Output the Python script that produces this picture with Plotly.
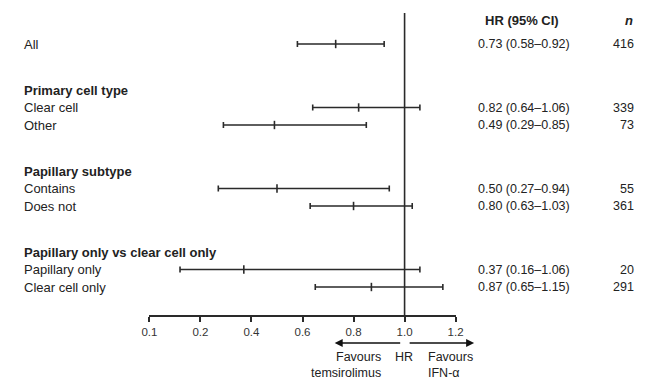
import numpy as np
import plotly.graph_objects as go

# ---- data ----
groups = [
    (None, ["All"]),
    ("Primary cell type", ["Clear cell", "Other"]),
    ("Papillary subtype", ["Contains", "Does not"]),
    ("Papillary only vs clear cell only", ["Papillary only", "Clear cell only"]),
]
hr = [0.73, 0.82, 0.49, 0.50, 0.80, 0.37, 0.87]
ci_lo = [0.58, 0.64, 0.29, 0.27, 0.63, 0.16, 0.65]
ci_hi = [0.92, 1.06, 0.85, 0.94, 1.03, 1.06, 1.15]
n_pat = [416, 339, 73, 55, 361, 20, 291]
tick_vals = [0.1, 0.2, 0.4, 0.6, 0.8, 1.0, 1.2]
tick_text = ["0.1", "0.2", "0.4", "0.6", "0.8", "1.0", "1.2"]

# ---- layout helpers ----
W, H = 645, 380
AX_Y = 315  # pixel row of x axis
FONT = "Liberation Sans, Arial, Helvetica, sans-serif"
TXT = "#222222"
LINE = "#2a2a2a"

# piecewise scale matching the drawn (broken) axis
tick_pos = list(range(len(tick_vals)))
def scale(v):
    return np.interp(v, tick_vals, tick_pos)

# row pixel positions
row_y, row_lab, head_y, head_lab = [], [], [], []
y = 44.0
step = 17.5
first = True
for head, items in groups:
    if head is not None:
        y += 41.0 if first else 46.0
        head_y.append(y)
        head_lab.append(head)
        y += step
        for it in items:
            row_y.append(y); row_lab.append(it); y += step
        y -= step
    else:
        for it in items:
            row_y.append(y); row_lab.append(it); y += step
        y -= step
    first = False

x_hr = scale(hr)
x_lo = scale(ci_lo)
x_hi = scale(ci_hi)

fig = go.Figure()
fig.add_trace(go.Scatter(
    x=x_hr, y=row_y, mode="markers",
    marker=dict(symbol="line-ns", size=6, color=LINE, line=dict(width=1.6, color=LINE)),
    error_x=dict(type="data", symmetric=False,
                 array=x_hi - x_hr, arrayminus=x_hr - x_lo,
                 color=LINE, thickness=1.6, width=3),
    hoverinfo="skip", showlegend=False, cliponaxis=False,
))

# vertical line at HR = 1
fig.add_shape(type="line", xref="x", yref="y", x0=scale(1.0), x1=scale(1.0),
              y0=13, y1=AX_Y, line=dict(color=LINE, width=1.6))

ann = []
def txt(x, yy, s, xanchor="left", bold=False, italic=False, size=13):
    if bold:
        s = "<b>" + s + "</b>"
    if italic:
        s = "<i>" + s + "</i>"
    ann.append(dict(x=x / W, y=yy, xref="paper", yref="y", text=s, showarrow=False,
                    xanchor=xanchor, yanchor="middle",
                    font=dict(family=FONT, size=size, color=TXT)))

for yy, lab in zip(row_y, row_lab):
    txt(14, yy, lab, size=13)
for yy, lab in zip(head_y, head_lab):
    txt(14, yy, lab, bold=True, size=13)

txt(527, 20, "HR (95% CI)", xanchor="center", bold=True, size=13)
txt(637, 20, "n", xanchor="center", bold=True, italic=True, size=13)
for yy, h, lo, hi, nn in zip(row_y, hr, ci_lo, ci_hi, n_pat):
    txt(529, yy, f"{h:.2f} ({lo:.2f}\u2013{hi:.2f})", xanchor="center", size=12.5)
    txt(644, yy, str(nn), xanchor="right", size=12.5)

# arrows and direction labels below axis
def arrow(head_x, tail_dx, yy):
    ann.append(dict(x=head_x / W, y=1 - yy / H, xref="paper", yref="paper",
                    ax=tail_dx, ay=0, text="", showarrow=True,
                    arrowhead=2, arrowsize=1, arrowwidth=1.6, arrowcolor="#111111"))
arrow(335, 67, 343)
arrow(478, -66, 343)

def ptxt(x, yy, s, xanchor, align):
    ann.append(dict(x=x / W, y=1 - yy / H, xref="paper", yref="paper", text=s,
                    showarrow=False, xanchor=xanchor, yanchor="middle", align=align,
                    font=dict(family=FONT, size=12.5, color=TXT)))
ptxt(385, 364.5, "Favours<br>temsirolimus", "right", "right")
ptxt(406, 357, "HR", "center", "center")
ptxt(429, 364.5, "Favours<br>IFN-\u03b1", "left", "left")

fig.update_layout(
    width=W, height=H, margin=dict(l=0, r=0, t=0, b=0),
    paper_bgcolor="white", plot_bgcolor="white",
    annotations=ann,
    xaxis=dict(domain=[145 / W, 459 / W], range=[0, tick_pos[-1]],
               tickvals=tick_pos, ticktext=tick_text,
               showgrid=False, zeroline=False, showline=True,
               linecolor=LINE, linewidth=1.6, ticks="outside", ticklen=5,
               tickwidth=1.6, tickcolor=LINE,
               tickfont=dict(family=FONT, size=11.5, color="#333333")),
    yaxis=dict(domain=[1 - AX_Y / H, 1], range=[AX_Y, 0], visible=False,
               showgrid=False, zeroline=False),
)

fig.write_html("out.html", config={"displayModeBar": False},
               post_script="document.body.style.margin='0px';"
                           "document.body.style.overflow='hidden';"
                           "document.documentElement.style.overflow='hidden';")
